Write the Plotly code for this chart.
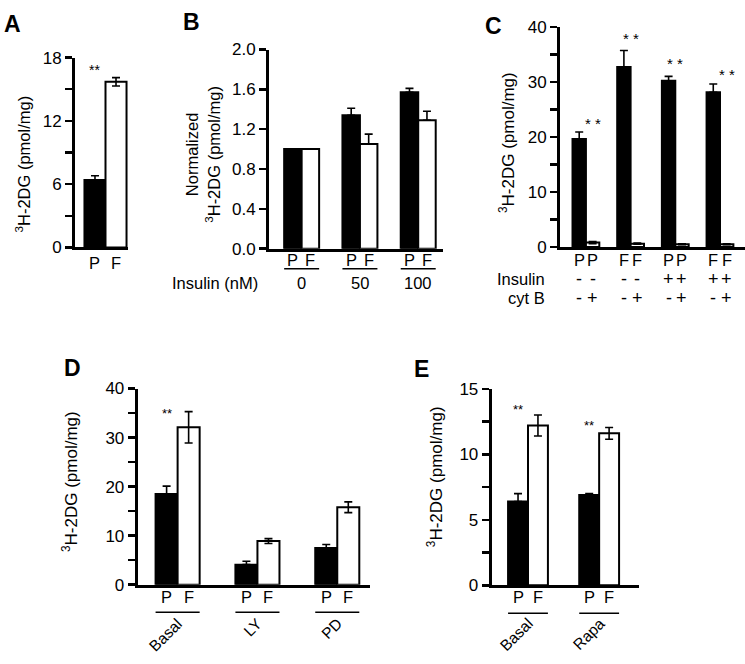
import plotly.graph_objects as go

W, H = 745, 664
FONT = "Liberation Sans, Arial, Helvetica, sans-serif"

# ---------------- data ----------------
A_cells = ["P", "F"]
A_vals = [6.4, 15.7]
A_err = [0.4, 0.4]

B_insulin = ["0", "50", "100"]
B_P = [1.0, 1.34, 1.57]
B_P_err = [0.0, 0.07, 0.04]
B_F = [1.0, 1.05, 1.29]
B_F_err = [0.0, 0.10, 0.09]

C_groups = ["P/-", "F/-", "P/+", "F/+"]
C_cells = ["P", "F", "P", "F"]
C_insulin = ["-", "-", "+", "+"]
C_cytb = ["-", "+"]
C_ctrl = [19.6, 32.7, 30.2, 28.1]
C_ctrl_err = [1.3, 3.0, 0.8, 1.5]
C_cytB = [0.8, 0.6, 0.5, 0.5]
C_cytB_err = [0.2, 0.1, 0.1, 0.1]
C_star_y = [22.5, 37.9, 33.4, 31.4]

D_groups = ["Basal", "LY", "PD"]
D_P = [18.5, 4.1, 7.5]
D_P_err = [1.6, 0.7, 0.7]
D_F = [32.1, 8.9, 15.8]
D_F_err = [3.2, 0.5, 1.1]

E_groups = ["Basal", "Rapa"]
E_P = [6.4, 6.9]
E_P_err = [0.6, 0.1]
E_F = [12.2, 11.6]
E_F_err = [0.8, 0.45]
E_star_y = [13.4, 12.2]


def px(x):
    return x / W


def py(y):
    return 1 - y / H


# approximate Arial advance widths (em) for label centring after rotation
CW = {"B": .667, "a": .556, "s": .5, "l": .222, "L": .556, "Y": .667, "P": .667,
      "D": .722, "R": .722, "p": .556}


def text_w(t, size):
    return sum(CW.get(c, .55) for c in t) * size


fig = go.Figure()
LINE = dict(color="black", width=2)


def err(vals, up_only):
    if up_only:
        return dict(type="data", array=vals, arrayminus=[0] * len(vals), symmetric=False,
                    color="black", thickness=1.6, width=4)
    return dict(type="data", array=vals, symmetric=True, color="black", thickness=1.6, width=4)


# Panel A
fig.add_bar(x=A_cells, y=A_vals, width=[1.0, 1.0],
            marker=dict(color=["black", "white"], line=LINE),
            error_y=dict(type="data", array=A_err, arrayminus=[0, A_err[1]], symmetric=False,
                         color="black", thickness=1.6, width=4),
            xaxis="x", yaxis="y")

# Panel B
wB = 0.30
fig.add_bar(x=B_insulin, y=B_P, width=wB, offset=-wB, marker=dict(color="black", line=LINE),
            error_y=err(B_P_err, True), xaxis="x2", yaxis="y2")
fig.add_bar(x=B_insulin, y=B_F, width=wB, offset=0, marker=dict(color="white", line=LINE),
            error_y=err(B_F_err, True), xaxis="x2", yaxis="y2")

# Panel C
wC = 0.30
fig.add_bar(x=C_groups, y=C_ctrl, width=wC, offset=-wC, marker=dict(color="black", line=LINE),
            error_y=err(C_ctrl_err, True), xaxis="x3", yaxis="y3")
fig.add_bar(x=C_groups, y=C_cytB, width=wC, offset=0, marker=dict(color="white", line=LINE),
            error_y=err(C_cytB_err, False), xaxis="x3", yaxis="y3")

# Panel D
wD = 0.276
fig.add_bar(x=D_groups, y=D_P, width=wD, offset=-wD, marker=dict(color="black", line=LINE),
            error_y=err(D_P_err, True), xaxis="x4", yaxis="y4")
fig.add_bar(x=D_groups, y=D_F, width=wD, offset=0, marker=dict(color="white", line=LINE),
            error_y=err(D_F_err, False), xaxis="x4", yaxis="y4")

# Panel E
wE = 0.28
fig.add_bar(x=E_groups, y=E_P, width=wE, offset=-wE, marker=dict(color="black", line=LINE),
            error_y=err(E_P_err, True), xaxis="x5", yaxis="y5")
fig.add_bar(x=E_groups, y=E_F, width=wE, offset=0, marker=dict(color="white", line=LINE),
            error_y=err(E_F_err, False), xaxis="x5", yaxis="y5")


def xax(dom, rng, anchor):
    return dict(domain=[px(dom[0]), px(dom[1])], range=rng, anchor=anchor, type="category",
                showline=True, linecolor="black", linewidth=3, ticks="", showticklabels=False,
                showgrid=False, zeroline=False, fixedrange=True)


def yax(dom, rng, anchor, dtick, minor=None, fmt=None):
    d = dict(domain=[py(dom[0]), py(dom[1])], range=rng, anchor=anchor,
             showline=True, linecolor="black", linewidth=3, ticks="outside", ticklen=7,
             tickwidth=2.5, tickcolor="black", dtick=dtick, tick0=0, showgrid=False,
             zeroline=False, fixedrange=True,
             tickfont=dict(size=17, color="black", family=FONT))
    if minor:
        d["minor"] = dict(dtick=minor, tick0=0, ticks="outside", ticklen=7, tickwidth=2.5,
                          tickcolor="black", showgrid=False)
    if fmt:
        d["tickformat"] = fmt
    return d


layout = dict(
    width=W, height=H, margin=dict(l=0, r=0, t=0, b=0),
    paper_bgcolor="white", plot_bgcolor="white", showlegend=False, barmode="overlay",
    font=dict(family=FONT, color="black", size=16),
    xaxis=xax((75, 128), [-0.95, 1.57], "y"),
    yaxis=yax((245.5, 50), [0, 18], "x", 6, 3),
    xaxis2=xax((269, 442.7), [-0.56, 2.42], "y2"),
    yaxis2=yax((246.7, 41.7), [0, 2], "x2", 0.4, None, ".1f"),
    xaxis3=xax((560, 745), [-0.58, 3.56], "y3"),
    yaxis3=yax((245, 18.3), [0, 40], "x3", 10, 5),
    xaxis4=xax((137.7, 370), [-0.5, 2.41], "y4"),
    yaxis4=yax((592.7, 390.7), [0, 40], "x4", 10, 5),
    xaxis5=xax((491.7, 639), [-0.51, 1.56], "y5"),
    yaxis5=yax((593.3, 391), [0, 15], "x5", 5, 2.5),
)

ann = []
shapes = []


def T(text, x, y, xref="paper", yref="paper", size=16.5, **kw):
    d = dict(text=text, x=x, y=y, xref=xref, yref=yref, showarrow=False,
             xanchor="center", yanchor="middle",
             font=dict(size=size, color="black", family=FONT))
    d.update(kw)
    ann.append(d)


def rotated(text, x, xref, end_y, size=15.5):
    # place a -45 deg label so that its upper-right end sits at (x, end_y)
    s = text_w(text, size) * 0.3536
    T(text, x, py(end_y), xref=xref, size=size, textangle=-45, xshift=-s + 2, yshift=-s)


# panel letters
for letter, (lx, ly) in {"A": (12, 15), "B": (191, 13), "C": (494, 17),
                         "D": (72, 370), "E": (421, 371)}.items():
    T("<b>%s</b>" % letter, px(lx), py(ly), size=23)

# y titles
YT = "<sup>3</sup>H-2DG (pmol/mg)"
T(YT, px(23), py(160), size=16.5, textangle=-90)
T("Normalized<br>" + YT, px(203), py(150), size=16.5, textangle=-90)
T(YT, px(507), py(138), size=17, textangle=-90)
T(YT, px(70), py(487), size=17, textangle=-90)
T(YT, px(435), py(482), size=17, textangle=-90)

# Panel A labels
for i, c in enumerate(A_cells):
    T(c, i, py(261), xref="x")
T("**", 0, 16.8, xref="x", yref="y", size=14)

# Panel B labels
for i, g in enumerate(B_insulin):
    T("P", i - wB / 2, py(258), xref="x2")
    T("F", i + wB / 2, py(258), xref="x2")
    shapes.append(dict(type="line", xref="x2", yref="paper", x0=i - wB, x1=i + wB,
                       y0=py(267.5), y1=py(267.5), line=dict(color="black", width=1.5)))
    T(g, i, py(282), xref="x2")
T("Insulin (nM)", px(260), py(282), xanchor="right")

# Panel C labels
for i in range(len(C_groups)):
    T(C_cells[i], i - wC / 2, py(258), xref="x3")
    T(C_cells[i], i + wC / 2, py(258), xref="x3")
    T(C_insulin[i], i - wC / 2, py(278), xref="x3", size=18)
    T(C_insulin[i], i + wC / 2, py(278), xref="x3", size=18)
    T(C_cytb[0], i - wC / 2, py(298), xref="x3", size=18)
    T(C_cytb[1], i + wC / 2, py(298), xref="x3", size=18)
    T("* *", i + (wC / 2 if i in (0, 3) else 0), C_star_y[i],
      xref="x3", yref="y3", size=15)
T("Insulin", px(547), py(278), xanchor="right")
T("cyt B", px(547), py(298), xanchor="right")

# Panel D labels
for i, g in enumerate(D_groups):
    T("P", i - wD / 2, py(605), xref="x4")
    T("F", i + wD / 2, py(605), xref="x4")
    shapes.append(dict(type="line", xref="x4", yref="paper", x0=i - wD, x1=i + wD,
                       y0=py(621), y1=py(621), line=dict(color="black", width=1.5)))
    rotated(g, i, "x4", 630)
T("**", 0 - wD / 2, 35.0, xref="x4", yref="y4", size=13)

# Panel E labels
for i, g in enumerate(E_groups):
    T("P", i - wE / 2, py(605), xref="x5")
    T("F", i + wE / 2, py(605), xref="x5")
    shapes.append(dict(type="line", xref="x5", yref="paper", x0=i - wE, x1=i + wE,
                       y0=py(622), y1=py(622), line=dict(color="black", width=1.5)))
    rotated(g, i, "x5", 630)
for i in range(len(E_groups)):
    T("**", i - wE / 2, E_star_y[i], xref="x5", yref="y5", size=13)

layout["annotations"] = ann
layout["shapes"] = shapes
fig.update_layout(**layout)
fig.write_html(
    "out.html",
    config={"displayModeBar": False, "staticPlot": True},
    post_script="document.body.style.margin='0px';document.body.style.overflow='hidden';",
)
